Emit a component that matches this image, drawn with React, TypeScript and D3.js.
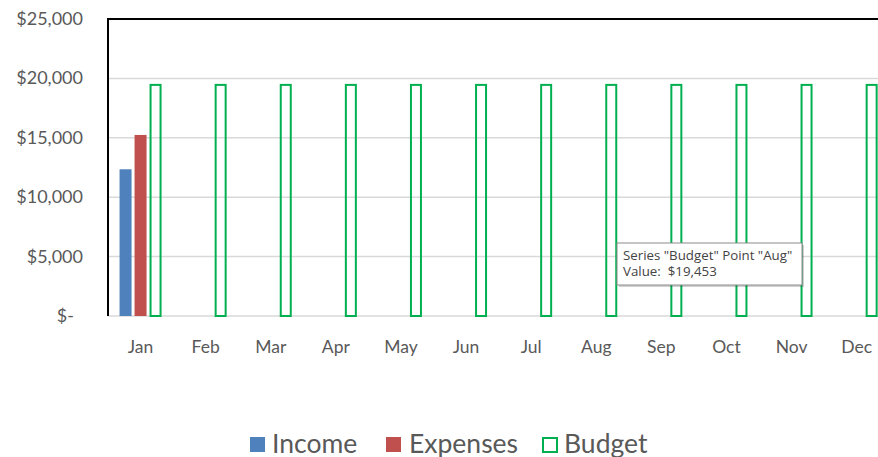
import React from "react";
import * as d3 from "d3";

const months = ["Jan", "Feb", "Mar", "Apr", "May", "Jun", "Jul", "Aug", "Sep", "Oct", "Nov", "Dec"];
const income = [12350, 0, 0, 0, 0, 0, 0, 0, 0, 0, 0, 0];
const expenses = [15240, 0, 0, 0, 0, 0, 0, 0, 0, 0, 0, 0];
const budget = [19453, 19453, 19453, 19453, 19453, 19453, 19453, 19453, 19453, 19453, 19453, 19453];
const yTicks = [0, 5000, 10000, 15000, 20000, 25000];
const seriesNames = ["Income", "Expenses", "Budget"];

const W = 878;
const H = 457;
const FONT = "Lato, 'Open Sans', sans-serif";
const TIP_FONT = "'Open Sans', 'Noto Sans', sans-serif";

export default function App() {
  const left = 108;
  const step = 65.1;
  const x = d3.scaleBand<string>().domain(months).range([left, left + step * 12]).padding(0);
  const y = d3.scaleLinear().domain([0, 25000]).range([316, 19]);
  const fmt = (v: number) => (v === 0 ? "$-" : "$" + d3.format(",")(v));

  const inner = (m: string) => {
    const cx = (x(m) as number) + x.bandwidth() / 2;
    return d3.scaleBand<string>().domain(seriesNames).range([cx - 21, cx + 21]).paddingInner(0.2);
  };

  return (
    <svg width={W} height={H} style={{ position: "absolute", left: 0, top: 0, background: "#fff" }}>
      {/* gridlines */}
      {yTicks.slice(0, -1).map((t) => (
        <line key={t} x1={left} x2={W} y1={y(t)} y2={y(t)} stroke="#d9d9d9" strokeWidth={1.5} />
      ))}
      {/* top border */}
      <line x1={left - 1} x2={W} y1={y(25000)} y2={y(25000)} stroke="#000" strokeWidth={2} />
      {/* left axis */}
      <line x1={left} x2={left} y1={y(25000) - 1} y2={y(0)} stroke="#000" strokeWidth={2} />
      {/* y tick labels */}
      {yTicks.map((t) => (
        <text key={t} x={t === 0 ? 74 : 83} y={y(t) + 6} textAnchor="end" fontFamily={FONT} fontSize={18} fill="#595959">
          {fmt(t)}
        </text>
      ))}
      {/* month labels */}
      {months.map((m) => (
        <text key={m} x={(x(m) as number) + x.bandwidth() / 2} y={353} textAnchor="middle" fontFamily={FONT} fontSize={17.5} fill="#595959">
          {m}
        </text>
      ))}
      {/* bars */}
      {months.map((m, i) => {
        const s = inner(m);
        return (
          <g key={m}>
            {income[i] > 0 && (
              <rect x={s("Income")} y={y(income[i])} width={s.bandwidth()} height={y(0) - y(income[i])} fill="#4f81bd" />
            )}
            {expenses[i] > 0 && (
              <rect x={s("Expenses")} y={y(expenses[i])} width={s.bandwidth()} height={y(0) - y(expenses[i])} fill="#c0504d" />
            )}
            {budget[i] > 0 && (
              <rect
                x={(s("Budget") as number) + 1}
                y={y(budget[i])}
                width={s.bandwidth() - 2}
                height={y(0) - y(budget[i])}
                fill="none"
                stroke="#00b050"
                strokeWidth={2}
              />
            )}
          </g>
        );
      })}
      {/* tooltip */}
      <g>
        <rect x={619} y={245} width={185} height={42} fill="#000" opacity={0.18} />
        <rect x={617} y={243} width={185} height={42} fill="#fff" stroke="#8c8c8c" strokeWidth={1} />
        <text x={623} y={260} fontFamily={TIP_FONT} fontSize={13.3} fill="#444">
          Series "Budget" Point "Aug"
        </text>
        <text x={623} y={276} fontFamily={TIP_FONT} fontSize={13.3} fill="#444" xmlSpace="preserve">
          {"Value:  $19,453"}
        </text>
      </g>
      {/* legend */}
      <g>
        <rect x={250} y={437} width={15} height={15} fill="#4f81bd" />
        <text x={272} y={453} fontFamily={FONT} fontSize={26.5} fill="#595959">Income</text>
        <rect x={386} y={437} width={15} height={15} fill="#c0504d" />
        <text x={409} y={453} fontFamily={FONT} fontSize={26.5} fill="#595959">Expenses</text>
        <rect x={543} y={438} width={14} height={14} fill="none" stroke="#00b050" strokeWidth={2} />
        <text x={564} y={453} fontFamily={FONT} fontSize={26.5} fill="#595959">Budget</text>
      </g>
    </svg>
  );
}
